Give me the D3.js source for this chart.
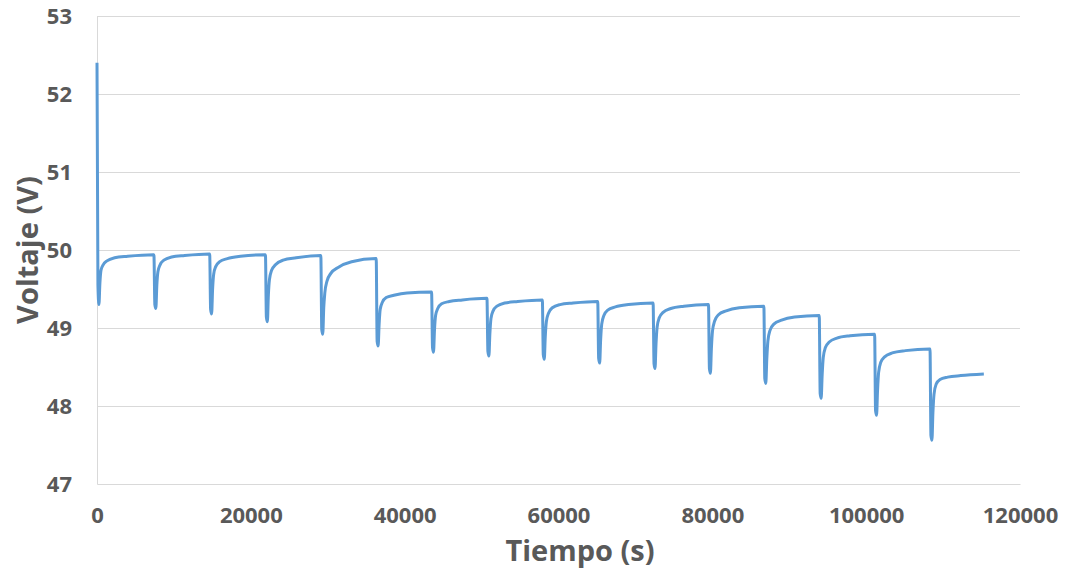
<!DOCTYPE html>
<html>
<head>
<meta charset="utf-8">
<script src="https://cdn.jsdelivr.net/npm/d3@7"></script>
<style>
  html, body { margin: 0; padding: 0; background: #ffffff; }
  svg { display: block; }
  .tick text { font-family: "Open Sans", "Liberation Sans", sans-serif; font-weight: 700; fill: #595959; }
  .title { font-family: "Open Sans", "Liberation Sans", sans-serif; font-weight: 700; fill: #595959; }
</style>
</head>
<body>
<svg id="chart" width="1065" height="572"></svg>
<script>
// Discharge test: battery voltage vs. time (s), sampled along the trace
const timeSeconds = [
  0, 120, 250, 380, 520, 800, 1300, 2300, 4000, 7380,
  7400, 7520, 7650, 7780, 7920, 8200, 8700, 9700, 11400, 14630,
  14650, 14770, 14900, 15030, 15170, 15450, 15950, 16950, 18650, 21880,
  21900, 22020, 22150, 22280, 22420, 22700, 23200, 24200, 25900, 29080,
  29100, 29220, 29350, 29480, 29620, 29900, 30400, 31400, 33100, 36280,
  36300, 36420, 36550, 36680, 36820, 37100, 37600, 38600, 40300, 43480,
  43500, 43620, 43750, 43880, 44020, 44300, 44800, 45800, 47500, 50680,
  50700, 50820, 50950, 51080, 51220, 51500, 52000, 53000, 54700, 57880,
  57900, 58020, 58150, 58280, 58420, 58700, 59200, 60200, 61900, 65080,
  65100, 65220, 65350, 65480, 65620, 65900, 66400, 67400, 69100, 72280,
  72300, 72420, 72550, 72680, 72820, 73100, 73600, 74600, 76300, 79480,
  79500, 79620, 79750, 79880, 80020, 80300, 80800, 81800, 83500, 86680,
  86700, 86820, 86950, 87080, 87220, 87500, 88000, 89000, 90700, 93880,
  93900, 94020, 94150, 94280, 94420, 94700, 95200, 96200, 97900, 101080,
  101100, 101220, 101350, 101480, 101620, 101900, 102400, 103400, 105100, 108280,
  108300, 108420, 108550, 108680, 108820, 109100, 109600, 110600, 112300, 115300
];

const voltage = [
  52.40, 49.55, 49.30, 49.58, 49.74, 49.81, 49.86, 49.90, 49.92, 49.94,
  49.94, 49.30, 49.25, 49.55, 49.72, 49.81, 49.87, 49.91, 49.93, 49.95,
  49.95, 49.24, 49.18, 49.50, 49.69, 49.79, 49.85, 49.89, 49.92, 49.94,
  49.94, 49.14, 49.08, 49.42, 49.62, 49.74, 49.81, 49.87, 49.90, 49.93,
  49.93, 48.98, 48.92, 49.26, 49.45, 49.60, 49.70, 49.78, 49.85, 49.89,
  49.89, 48.83, 48.77, 49.05, 49.24, 49.33, 49.39, 49.42, 49.45, 49.46,
  49.46, 48.75, 48.69, 48.98, 49.16, 49.25, 49.31, 49.34, 49.36, 49.38,
  49.38, 48.70, 48.64, 48.93, 49.12, 49.22, 49.28, 49.32, 49.34, 49.36,
  49.36, 48.66, 48.60, 48.89, 49.08, 49.19, 49.26, 49.30, 49.32, 49.34,
  49.34, 48.61, 48.55, 48.85, 49.05, 49.16, 49.23, 49.27, 49.30, 49.32,
  49.32, 48.54, 48.48, 48.80, 49.01, 49.13, 49.20, 49.25, 49.28, 49.30,
  49.30, 48.48, 48.42, 48.74, 48.96, 49.09, 49.17, 49.22, 49.26, 49.28,
  49.28, 48.35, 48.29, 48.60, 48.83, 48.97, 49.05, 49.10, 49.14, 49.16,
  49.16, 48.16, 48.10, 48.40, 48.62, 48.75, 48.82, 48.87, 48.90, 48.92,
  48.92, 47.94, 47.88, 48.20, 48.43, 48.56, 48.63, 48.68, 48.71, 48.73,
  48.73, 47.62, 47.56, 47.92, 48.15, 48.28, 48.34, 48.37, 48.39, 48.41
];

const xTicks = [0, 20000, 40000, 60000, 80000, 100000, 120000];
const yTicks = [47, 48, 49, 50, 51, 52, 53];

const xTitle = "Tiempo (s)";
const yTitle = "Voltaje (V)";

const svg = d3.select("#chart");
const margin = { left: 97, right: 45, top: 16, bottom: 88 };
const width = 1065, height = 572;

const x = d3.scaleLinear().domain([0, 120000]).range([margin.left, width - margin.right]);
const y = d3.scaleLinear().domain([47, 53]).range([height - margin.bottom, margin.top]);

// horizontal gridlines
svg.append("g")
  .selectAll("line")
  .data(yTicks.filter(d => d !== 47))
  .join("line")
  .attr("x1", x(0)).attr("x2", x(120000))
  .attr("y1", d => Math.round(y(d)) + 0.5).attr("y2", d => Math.round(y(d)) + 0.5)
  .attr("stroke", "#d9d9d9").attr("stroke-width", 1);

// y axis
const yAxis = svg.append("g")
  .attr("transform", `translate(${x(0)},0)`)
  .call(d3.axisLeft(y).tickValues(yTicks).tickSize(0).tickPadding(25).tickFormat(d3.format("d")));
yAxis.select(".domain").attr("stroke", "#d9d9d9");
yAxis.selectAll(".tick text").style("font-size", "22px");

// x axis
const xAxis = svg.append("g")
  .attr("transform", `translate(0,${y(47)})`)
  .call(d3.axisBottom(x).tickValues(xTicks).tickSize(0).tickPadding(23).tickFormat(d3.format("d")));
xAxis.select(".domain").attr("stroke", "#d9d9d9");
xAxis.selectAll(".tick text").style("font-size", "22px");

// voltage trace
const points = timeSeconds.map((t, i) => [t, voltage[i]]);
const line = d3.line()
  .x(d => x(d[0]))
  .y(d => y(d[1]))
  .curve(d3.curveMonotoneX);

svg.append("path")
  .datum(points)
  .attr("fill", "none")
  .attr("stroke", "#5b9bd5")
  .attr("stroke-width", 3)
  .attr("stroke-linejoin", "round")
  .attr("d", line);

// axis titles
svg.append("text")
  .attr("class", "title")
  .attr("x", 580).attr("y", 561)
  .attr("text-anchor", "middle")
  .style("font-size", "29px")
  .text(xTitle);

svg.append("text")
  .attr("class", "title")
  .attr("transform", "translate(38,250) rotate(-90)")
  .attr("text-anchor", "middle")
  .style("font-size", "29px")
  .text(yTitle);
</script>
</body>
</html>
